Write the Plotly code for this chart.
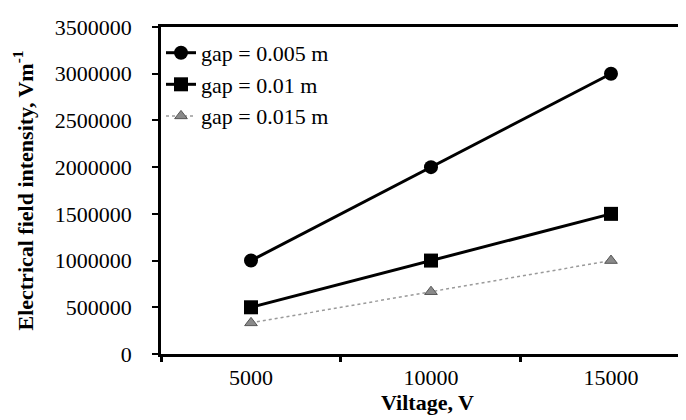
import plotly.graph_objects as go

voltage = [5000, 10000, 15000]
gap_0005 = [1000000, 2000000, 3000000]
gap_001 = [500000, 1000000, 1500000]
gap_0015 = [333333, 666667, 1000000]
series_names = ["gap = 0.005 m", "gap = 0.01 m", "gap = 0.015 m"]
y_ticks = [0, 500000, 1000000, 1500000, 2000000, 2500000, 3000000, 3500000]
category_bounds = [2500, 7500, 12500, 17500]

FONT = "Liberation Serif"

fig = go.Figure()
fig.add_trace(go.Scatter(
    x=voltage, y=gap_0005, name=series_names[0], mode="lines+markers",
    line=dict(color="black", width=3),
    marker=dict(symbol="circle", size=14, color="black"),
))
fig.add_trace(go.Scatter(
    x=voltage, y=gap_001, name=series_names[1], mode="lines+markers",
    line=dict(color="black", width=3),
    marker=dict(symbol="square", size=14, color="black"),
))
fig.add_trace(go.Scatter(
    x=voltage, y=gap_0015, name=series_names[2], mode="lines+markers",
    line=dict(color="#9a9a9a", width=1.5, dash="dot"),
    marker=dict(symbol="triangle-up", size=11, color="#8a8a8a",
                line=dict(color="#555555", width=1)),
))

fig.update_layout(
    width=686, height=420,
    margin=dict(l=153, r=0, t=19, b=74),
    paper_bgcolor="white", plot_bgcolor="white",
    font=dict(family=FONT, size=22, color="black"),
    showlegend=True,
    legend=dict(x=0.0, y=0.985, xanchor="left", yanchor="top",
                bgcolor="rgba(0,0,0,0)", font=dict(family=FONT, size=22, color="black"),
                tracegroupgap=0, itemwidth=30),
    xaxis=dict(
        range=[2500, 17306], tickvals=voltage, ticktext=[str(v) for v in voltage],
        ticks="", showgrid=False, zeroline=False,
        showline=True, linecolor="black", linewidth=2.5, mirror=True,
        ticklabelstandoff=2,
        minor=dict(tickvals=category_bounds, ticks="outside", ticklen=5,
                   tickwidth=2.5, tickcolor="black", showgrid=False),
        title=dict(text="<b>Viltage, V</b>", font=dict(family=FONT, size=22), standoff=0),
    ),
    yaxis=dict(
        range=[0, 3500000], tickvals=y_ticks, ticktext=[str(v) for v in y_ticks],
        ticks="outside", ticklen=6, tickwidth=2, tickcolor="black",
        showgrid=False, zeroline=False,
        showline=True, linecolor="black", linewidth=2.5,
        ticklabelstandoff=16,
        title=dict(text="<b>Electrical field intensity, Vm<sup>-1</sup></b>",
                   font=dict(family=FONT, size=22), standoff=16),
    ),
)

fig.write_html("out.html")
